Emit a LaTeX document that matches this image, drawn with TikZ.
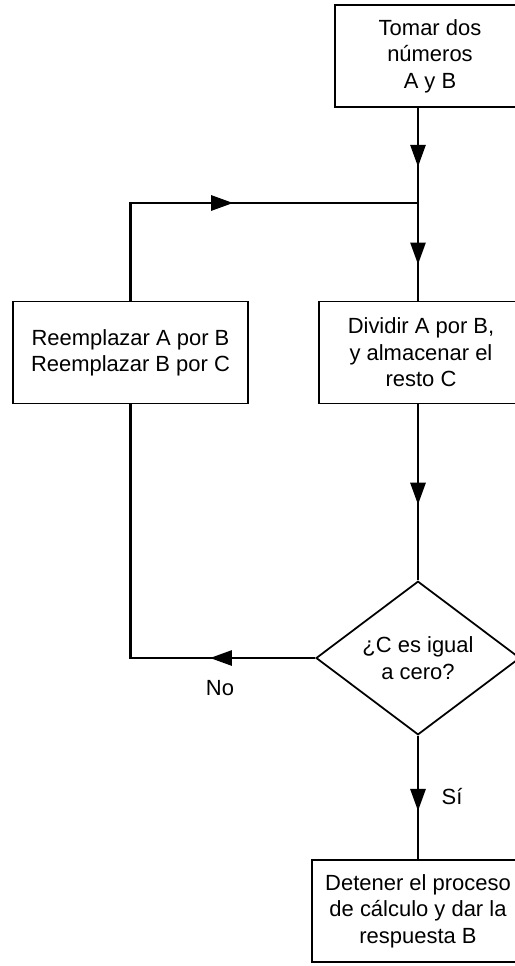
\documentclass[tikz,border=0pt]{standalone}
\usepackage{fontspec}
\setmainfont{Liberation Sans}
\usetikzlibrary{shapes.geometric,arrows.meta,decorations.markings}

\begin{document}
\begin{tikzpicture}[x=0.02cm, y=-0.02cm,
    font=\fontsize{12.5}{15}\selectfont,
    box/.style={draw, line width=1pt, rectangle, align=center, inner sep=2pt, minimum height=2.04cm},
    decision/.style={draw, line width=1pt, diamond, align=center, inner sep=0pt, minimum width=4.08cm, minimum height=2.66cm},
    flow/.style={line width=1.6pt},
    midarrow/.style={postaction={decorate}, decoration={markings, mark=at position #1 with {\arrow{Triangle[length=4.4mm, width=3mm]}}}}]
    \useasboundingbox (0,0) rectangle (514,966);

    \node[box, minimum width=3.8cm] (a) at (430, 56) {Tomar dos\\números\\A y B};
    \node[box, minimum width=4.7cm] (b) at (130.5, 352.5) {Reemplazar A por B\\Reemplazar B por C};
    \node[box, minimum width=4.08cm] (c) at (421, 352.5) {Dividir A por B,\\y almacenar el\\resto C};
    \node[decision] (d) at (418, 658) {¿C es igual\\a cero?};
    \node[box, minimum width=4.24cm] (e) at (418, 911) {Detener el proceso\\de cálculo y dar la\\respuesta B};
    \node (f) at (220, 688) {No};
    \node (g) at (452, 797) {Sí};
    \coordinate (j) at (418, 203);

    \draw [flow, midarrow=0.62] (a.south -| j) -- (j);
    \draw [flow, midarrow=0.63] (j) -- (c.north -| j);
    \draw [flow, midarrow=0.52] (b.north) |- (j);
    \draw [flow, midarrow=0.57] (c.south -| d.north) -- (d.north);
    \draw [flow, midarrow=0.24] (d.west) -| (b.south);
    \draw [flow, midarrow=0.61] (d.south) -- (e.north -| d.south);

\end{tikzpicture}
\end{document}
